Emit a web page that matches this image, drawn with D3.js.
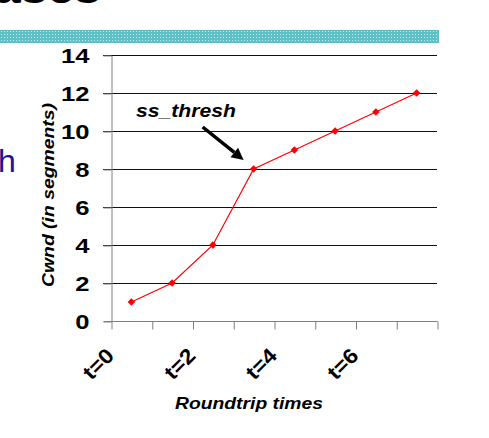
<!DOCTYPE html>
<html>
<head>
<meta charset="utf-8">
<script src="https://cdn.jsdelivr.net/npm/d3@7"></script>
<style>
  body { margin: 0; background: #fff; }
  svg { display: block; font-family: Arial, "Liberation Sans", sans-serif; }
</style>
</head>
<body>
<div id="body"></div>
<script>
// chart data
var categories = ['t=0', 't=1', 't=2', 't=3', 't=4', 't=5', 't=6', 't=7'];
var cwnd = [1, 2, 4, 8, 9, 10, 11, 12];
var yTicks = [0, 2, 4, 6, 8, 10, 12, 14];
var shownLabels = ['t=0', 't=2', 't=4', 't=6'];

var width = 489, height = 438;
var plotLeft = 111, plotRight = 437, plotTop = 55, plotBottom = 321;

var svg = d3.select('#body').append('svg')
    .attr('width', width)
    .attr('height', height);

// stretch text horizontally like the original slide
function stretch(sel, k) {
    sel.each(function() {
        var len = this.getComputedTextLength();
        d3.select(this).attr('textLength', len * k).attr('lengthAdjust', 'spacingAndGlyphs');
    });
}

// slide decorations
var defs = svg.append('defs');
var pat = defs.append('pattern')
    .attr('id', 'dots')
    .attr('width', 3).attr('height', 3)
    .attr('patternUnits', 'userSpaceOnUse');
pat.append('rect').attr('width', 3).attr('height', 3).attr('fill', '#5cc0c6');
pat.append('rect').attr('x', 1).attr('y', 1).attr('width', 1).attr('height', 1).attr('fill', '#c8ecee');

svg.append('text')
    .attr('x', -6).attr('y', 2.5)
    .attr('font-size', 40).attr('font-weight', 'bold')
    .attr('fill', '#000')
    .text('ases')
    .call(stretch, 1.2);

svg.append('rect')
    .attr('x', 0).attr('y', 30)
    .attr('width', 439).attr('height', 13)
    .attr('fill', 'url(#dots)');

svg.append('text')
    .attr('x', -2).attr('y', 172)
    .attr('font-size', 32)
    .attr('fill', '#1c1296')
    .text('h');

// scales
var x = d3.scaleBand().domain(categories).range([plotLeft, plotRight]);
var xEdge = d3.scaleLinear().domain([0, categories.length]).range([plotLeft, plotRight]);
var y = d3.scaleLinear().domain([0, 14]).range([plotBottom, plotTop]);

// gridlines
svg.append('g')
    .selectAll('line')
    .data(yTicks.filter(d => d > 0))
    .enter().append('line')
    .attr('x1', plotLeft - 8).attr('x2', plotRight)
    .attr('y1', d => Math.round(y(d)) + 0.5)
    .attr('y2', d => Math.round(y(d)) + 0.5)
    .attr('stroke', '#111')
    .attr('stroke-width', 1);

// y axis
var yAxis = svg.append('g')
    .attr('transform', `translate(${plotLeft + 0.5},0.5)`)
    .call(d3.axisLeft(y).tickValues(yTicks).tickSize(8).tickSizeOuter(0).tickPadding(14));
yAxis.select('.domain').attr('stroke', '#808080');
yAxis.selectAll('.tick line').attr('stroke', '#808080');
yAxis.selectAll('.tick text')
    .attr('font-size', 21).attr('font-weight', 'bold')
    .attr('font-family', 'Arial, "Liberation Sans", sans-serif')
    .attr('fill', '#000')
    .call(stretch, 1.22);

// x axis (ticks between categories)
var xAxis = svg.append('g')
    .attr('transform', `translate(0.5,${plotBottom + 0.5})`)
    .call(d3.axisBottom(xEdge).tickValues(d3.range(categories.length + 1)).tickSize(8).tickSizeOuter(0).tickFormat(''));
xAxis.select('.domain').attr('stroke', '#808080').attr('d', `M${plotLeft - 8},0H${plotRight}`);
xAxis.selectAll('.tick line').attr('stroke', '#808080');

svg.append('g')
    .selectAll('text')
    .data(categories.filter(c => shownLabels.indexOf(c) >= 0))
    .enter().append('text')
    .attr('text-anchor', 'end')
    .attr('transform', d => `translate(${x(d) + x.bandwidth() / 2 - 16},357) rotate(-45)`)
    .attr('font-size', 21).attr('font-weight', 'bold')
    .text(d => d)
    .call(stretch, 1.1);

// axis titles
svg.append('text')
    .attr('text-anchor', 'middle')
    .attr('transform', 'translate(54,195) rotate(-90)')
    .attr('font-size', 17).attr('font-weight', 'bold').attr('font-style', 'italic')
    .text('Cwnd (in segments)')
    .attr('textLength', 184).attr('lengthAdjust', 'spacingAndGlyphs');

svg.append('text')
    .attr('text-anchor', 'middle')
    .attr('x', 249).attr('y', 409)
    .attr('font-size', 17).attr('font-weight', 'bold').attr('font-style', 'italic')
    .text('Roundtrip times')
    .attr('textLength', 148).attr('lengthAdjust', 'spacingAndGlyphs');

// data line
var pts = categories.map((c, i) => [x(c) + x.bandwidth() / 2, y(cwnd[i])]);
svg.append('path')
    .datum(pts)
    .attr('fill', 'none')
    .attr('stroke', '#ff0000')
    .attr('stroke-width', 1.2)
    .attr('d', d3.line());

svg.append('g')
    .selectAll('path')
    .data(pts)
    .enter().append('path')
    .attr('transform', d => `translate(${d[0]},${d[1]}) rotate(45)`)
    .attr('d', d3.symbol(d3.symbolSquare, 28))
    .attr('fill', '#ff0000');

// ss_thresh annotation
var tip = [x('t=3') + x.bandwidth() / 2 - 10, y(8) - 9];
svg.append('text')
    .attr('x', 136).attr('y', 117)
    .attr('font-size', 18).attr('font-weight', 'bold').attr('font-style', 'italic')
    .text('ss_thresh')
    .attr('textLength', 100).attr('lengthAdjust', 'spacingAndGlyphs');

var ang = Math.atan2(33, 41);
var back = [tip[0] - 12 * Math.cos(ang), tip[1] - 12 * Math.sin(ang)];
svg.append('line')
    .attr('x1', tip[0] - 41).attr('y1', tip[1] - 33)
    .attr('x2', back[0]).attr('y2', back[1])
    .attr('stroke', '#000').attr('stroke-width', 3.5);
svg.append('path')
    .attr('d', d3.line()([
        tip,
        [back[0] + 6 * Math.sin(ang), back[1] - 6 * Math.cos(ang)],
        [back[0] - 6 * Math.sin(ang), back[1] + 6 * Math.cos(ang)]
    ]) + 'Z')
    .attr('fill', '#000');
</script>
</body>
</html>
